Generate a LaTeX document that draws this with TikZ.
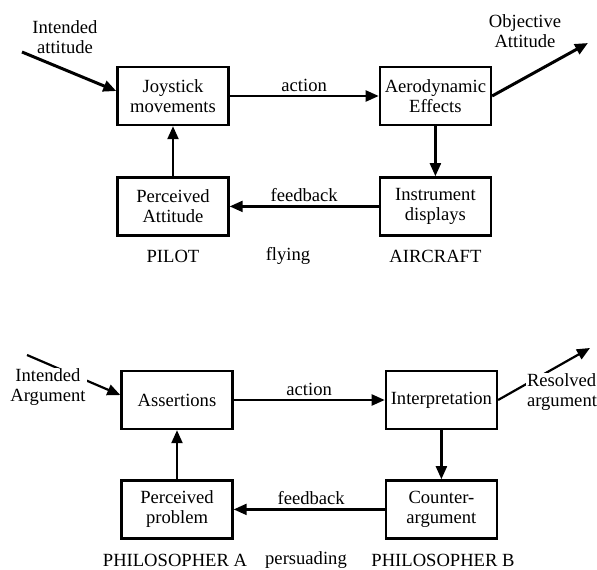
\documentclass[tikz,border=0pt]{standalone}
\usepackage{fontspec}
\setmainfont{Liberation Serif}
\usetikzlibrary{arrows.meta,positioning,calc}
\tikzset{
  % framed box with a one- or two-line label
  block/.style={draw, rectangle, minimum width=111pt, minimum height=58pt,
                align=center, line width=2.4pt, inner sep=2pt},
  % arrows
  flowarr/.style={-{Triangle[length=13pt,width=11pt]}, line width=2.2pt},
  % free text
  lbl/.style={align=center, inner sep=1pt},
  lbl-mask/.style={lbl, fill=white}
}
\begin{document}
\begin{tikzpicture}[x=1pt, y=-1pt, font=\fontsize{18.6}{20}\selectfont]
\useasboundingbox (0,0) rectangle (597,570);

% ============== Top: pilot flying aircraft ==============
\node[block] (joy) at (173,96) {Joystick\\movements};
\node[block, right=149pt of joy] (aero) {Aerodynamic\\Effects};
\node[block, below=50pt of joy] (percA) {Perceived\\Attitude};
\node[block, below=50pt of aero] (instr) {Instrument\\displays};

\draw[flowarr] (joy.east) -- node[above=2pt, lbl] {action} (aero.west);
\draw[flowarr] (aero.south) -- (instr.north);
\draw[flowarr] (instr.west) -- node[above=3pt, lbl] {feedback} (percA.east);
\draw[flowarr] (percA.north) -- (joy.south);

% input / output
\coordinate (inA) at (22,52);
\coordinate (outA) at (588,43);
\node[lbl] (inAtxt) at (65,37) {Intended\\attitude};
\node[lbl] (outAtxt) at (525,31) {Objective\\Attitude};
\draw[flowarr, line width=3pt] (inA) -- (joy.175);
\draw[flowarr, line width=3pt] (aero.east) -- (outA);

% captions
\node[lbl] (pilot) at (percA.south |- 0,256) {PILOT};
\node[lbl] (flying) at (288,256) {flying};
\node[lbl] (aircraft) at (instr.south |- 0,256) {AIRCRAFT};

% ============== Bottom: philosopher persuading philosopher ==============
\node[block] (assert) at (177,400) {Assertions};
\node[block, right=151pt of assert] (interp) {Interpretation};
\node[block, below=49pt of assert] (percB) {Perceived\\problem};
\node[block, below=49pt of interp] (counter) {Counter-\\argument};

\draw[flowarr] (assert.east) -- node[above=2pt, lbl] {action} (interp.west);
\draw[flowarr] (interp.south) -- (counter.north);
\draw[flowarr] (counter.west) -- node[above=3pt, lbl, xshift=2pt] {feedback} (percB.east);
\draw[flowarr] (percB.north) -- (assert.south);

% input / output, text laid over the line
\coordinate (inB) at (27,355);
\coordinate (outB) at (590,348);
\draw[flowarr] (inB) -- (assert.175);
\draw[flowarr] (interp.east) -- (outB);
\node[lbl-mask] (inBtxt) at (48,387) {Intended\\Argument};
\node[lbl-mask, align=left] (outBtxt) at (562,392) {Resolved\\argument};

% captions
\node[lbl] (philA) at (175,560) {PHILOSOPHER A};
\node[lbl] (persuading) at (306,560) {persuading};
\node[lbl] (philB) at (443,560) {PHILOSOPHER B};

\end{tikzpicture}
\end{document}
